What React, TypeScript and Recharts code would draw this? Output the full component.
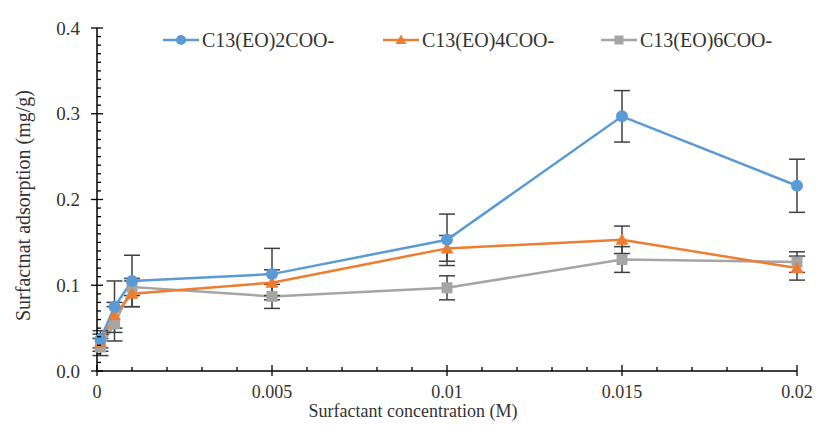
import React from 'react';
import { ComposedChart, Line, XAxis, YAxis, ErrorBar, Legend, Label } from 'recharts';

// surfactant concentration (M)
const concentration = [0.0001, 0.0005, 0.001, 0.005, 0.01, 0.015, 0.02];

// adsorption (mg/g) and error bars
const eo2 = [0.037, 0.075, 0.105, 0.113, 0.153, 0.297, 0.216];
const eo2Err = [0.01, 0.03, 0.03, 0.03, 0.03, 0.03, 0.031];
const eo4 = [0.033, 0.065, 0.09, 0.103, 0.143, 0.153, 0.12];
const eo4Err = [0.01, 0.015, 0.015, 0.015, 0.015, 0.016, 0.014];
const eo6 = [0.028, 0.055, 0.098, 0.087, 0.097, 0.13, 0.127];
const eo6Err = [0.01, 0.02, 0.01, 0.014, 0.014, 0.015, 0.012];

const seriesNames = ['C13(EO)2COO-', 'C13(EO)4COO-', 'C13(EO)6COO-'];

const xMajor = [0, 0.005, 0.01, 0.015, 0.02];
const yMajor = [0, 0.1, 0.2, 0.3, 0.4];
const xTicks = Array.from({ length: 21 }, (_, i) => i / 1000);
const yTicks = Array.from({ length: 41 }, (_, i) => i / 100);

const BLUE = '#5B9BD5';
const ORANGE = '#ED7D31';
const GRAY = '#A5A5A5';
const FONT = "'Liberation Serif', 'Times New Roman', serif";
const TEXT = '#333';

const data = concentration.map((c, i) => ({
  c,
  eo2: eo2[i],
  eo2Err: eo2Err[i],
  eo4: eo4[i],
  eo4Err: eo4Err[i],
  eo6: eo6[i],
  eo6Err: eo6Err[i],
}));

const isMajor = (v: number, list: number[]) => list.some((m) => Math.abs(m - v) < 1e-9);

const YTick = (props: any) => {
  const { x, y, payload } = props;
  const v = payload.value;
  const major = isMajor(v, yMajor);
  return (
    <g>
      <line x1={major ? x - 6 : x} x2={x + (major ? 6 : 4)} y1={y} y2={y} stroke="#000" strokeWidth={1.3} />
      {major && (
        <text x={x - 17} y={y} textAnchor="end" dominantBaseline="central" fontFamily={FONT} fontSize={19} fill={TEXT}>
          {v.toFixed(1)}
        </text>
      )}
    </g>
  );
};

const XTick = (props: any) => {
  const { x, y, payload } = props;
  const v = payload.value;
  const major = isMajor(v, xMajor);
  return (
    <g>
      <line x1={x} x2={x} y1={major ? y + 5 : y} y2={y - (major ? 6 : 4)} stroke="#000" strokeWidth={1.3} />
      {major && (
        <text x={x} y={y + 21} textAnchor="middle" dominantBaseline="central" fontFamily={FONT} fontSize={18} fill={TEXT}>
          {String(v)}
        </text>
      )}
    </g>
  );
};

const Circle = (p: any) => <circle key={p.index} cx={p.cx} cy={p.cy} r={6} fill={BLUE} />;
const Triangle = (p: any) => (
  <path key={p.index} d={`M${p.cx},${p.cy - 6.5} L${p.cx + 6.5},${p.cy + 5} L${p.cx - 6.5},${p.cy + 5} Z`} fill={ORANGE} />
);
const Square = (p: any) => <rect key={p.index} x={p.cx - 5.5} y={p.cy - 5.5} width={11} height={11} fill={GRAY} />;

const legendColors = [BLUE, ORANGE, GRAY];
const legendStart = [163, 383, 601];

const LegendBox = () => (
  <svg width={816} height={24} style={{ display: 'block' }}>
    {seriesNames.map((n, i) => {
      const x0 = legendStart[i];
      const c = legendColors[i];
      const mx = x0 + 18;
      return (
        <g key={n}>
          <line x1={x0} x2={x0 + 36} y1={12} y2={12} stroke={c} strokeWidth={2.5} />
          {i === 0 && <circle cx={mx} cy={12} r={5} fill={c} />}
          {i === 1 && <path d={`M${mx},6.5 L${mx + 5.5},16 L${mx - 5.5},16 Z`} fill={c} />}
          {i === 2 && <rect x={mx - 4.5} y={7.5} width={9} height={9} fill={c} />}
          <text x={x0 + 39} y={12} dominantBaseline="central" fontFamily={FONT} fontSize={20} fill={TEXT}>
            {n}
          </text>
        </g>
      );
    })}
  </svg>
);

export default function App() {
  return (
    <div style={{ position: 'absolute', left: 0, top: 0, width: 816, height: 426, background: '#fff' }}>
      <ComposedChart width={816} height={426} data={data} margin={{ top: 28, right: 19, left: 0, bottom: 0 }}>
        <XAxis
          dataKey="c"
          type="number"
          domain={[0, 0.02]}
          ticks={xTicks}
          interval={0}
          tick={<XTick />}
          tickLine={false}
          tickSize={0}
          tickMargin={0}
          height={55}
          axisLine={{ stroke: '#000', strokeWidth: 1.5 }}
        >
          <Label
            content={({ viewBox }: any) => (
              <text
                x={viewBox.x + viewBox.width / 2 - 34}
                y={viewBox.y + 40}
                textAnchor="middle"
                dominantBaseline="central"
                fontFamily={FONT}
                fontSize={18}
                fill={TEXT}
              >
                Surfactant concentration (M)
              </text>
            )}
          />
        </XAxis>
        <YAxis
          type="number"
          domain={[0, 0.4]}
          ticks={yTicks}
          interval={0}
          tick={<YTick />}
          tickLine={false}
          tickSize={0}
          tickMargin={0}
          width={97}
          axisLine={{ stroke: '#000', strokeWidth: 1.5 }}
        >
          <Label
            content={({ viewBox }: any) => {
              const cx = viewBox.x + 23;
              const cy = viewBox.y + viewBox.height / 2 + 6;
              return (
                <text
                  x={cx}
                  y={cy}
                  transform={`rotate(-90 ${cx} ${cy})`}
                  textAnchor="middle"
                  dominantBaseline="central"
                  fontFamily={FONT}
                  fontSize={20}
                  fill={TEXT}
                >
                  Surfactnat adsorption (mg/g)
                </text>
              );
            }}
          />
        </YAxis>
        <Legend
          layout="horizontal"
          verticalAlign="middle"
          align="center"
          wrapperStyle={{ top: 28, left: 0, width: 816 }}
          content={() => <LegendBox />}
        />
        <Line dataKey="eo6" stroke={GRAY} strokeWidth={2.5} dot={Square} activeDot={false} isAnimationActive={false}>
          <ErrorBar dataKey="eo6Err" width={8} strokeWidth={1.5} stroke="#404040" direction="y" isAnimationActive={false} />
        </Line>
        <Line dataKey="eo4" stroke={ORANGE} strokeWidth={2.5} dot={Triangle} activeDot={false} isAnimationActive={false}>
          <ErrorBar dataKey="eo4Err" width={8} strokeWidth={1.5} stroke="#404040" direction="y" isAnimationActive={false} />
        </Line>
        <Line dataKey="eo2" stroke={BLUE} strokeWidth={2.5} dot={Circle} activeDot={false} isAnimationActive={false}>
          <ErrorBar dataKey="eo2Err" width={8} strokeWidth={1.5} stroke="#404040" direction="y" isAnimationActive={false} />
        </Line>
      </ComposedChart>
    </div>
  );
}
